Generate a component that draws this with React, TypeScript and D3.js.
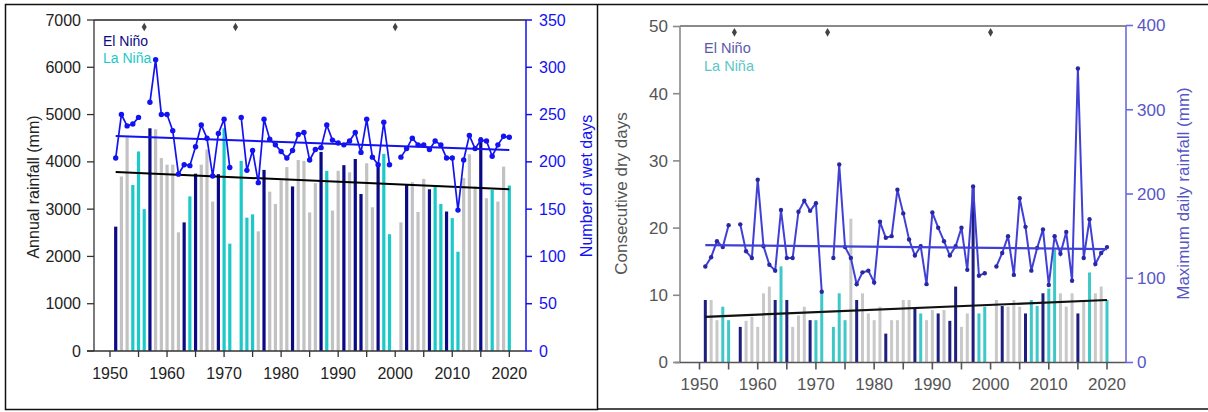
import React from 'react';
import * as d3 from 'd3';

// ---------- DATA ----------
const YEARS: number[] = d3.range(1951, 2021);

// ENSO phase per year: E = El Niño, L = La Niña, N = neutral
const ENSO: string[] = [
  'E','N','N','L','L','L','E','N','N','N', // 1951-1960
  'N','N','E','L','E','N','N','N','E','L', // 1961-1970
  'L','N','L','L','L','N','E','N','N','N', // 1971-1980
  'N','E','N','N','N','N','E','L','N','N', // 1981-1990
  'E','N','E','E','N','N','E','L','L','N', // 1991-2000
  'N','E','N','N','N','E','L','L','E','L', // 2001-2010
  'L','N','N','N','E','N','L','N','N','L', // 2011-2020
];

// Annual rainfall (mm)
const RAINFALL: (number | null)[] = [
  2630, 3690, 4520, 3510, 4220, 3000, 4710, 4690, 4080, 3940,
  3940, 2510, 2720, 3270, 3750, 3940, 4260, 3160, 3740, 4710,
  2270, null, 4020, 2820, 2890, 2530, 3830, 3370, 3110, 3610,
  3890, 3480, 4040, 4020, 2930, 3550, 4210, 3810, 2970, 3810,
  3930, 3780, 4060, 3320, 3970, 3040, 3940, 4170, 2470, null,
  2720, 3530, 3570, 2940, 3640, 3420, 3470, 3110, 2950, 2810,
  2100, 3660, 4160, 3480, 4520, 3230, 3410, 3160, 3900, 3500,
];

// Number of wet days
const WET_DAYS: (number | null)[] = [
  204, 250, 238, 240, 247, null, 263, 308, 250, 250,
  233, 187, 197, 196, 216, 239, 225, 185, 230, 245,
  194, null, 247, 191, 212, 178, 245, 224, 218, 211,
  204, 212, 229, 231, 202, 213, 215, 239, 223, 220,
  218, 222, 231, 210, 245, 205, 197, 242, 197, null,
  205, 214, 225, 218, 218, 213, 222, 218, 204, 204,
  149, 202, 228, 214, 223, 222, 206, 218, 227, 226,
];

// Consecutive dry days
const DRY_DAYS: (number | null)[] = [
  9.3, 9.3, 6.3, 8.3, 6.3, null, 5.3, 6.2, 6.8, 5.3,
  10.3, 11.3, 9.3, 14.3, 9.3, 5.3, 7, 8.3, 6.3, 6.3,
  10.4, null, 5.3, 10.3, 6.3, 21.4, 9.3, 10.3, 7.3, 6.3,
  8.3, 4.3, 6.3, 6.3, 9.3, 9.3, 8.1, 7.3, 6.3, 7.8,
  7.3, 7.8, 6.2, 11.3, 5.3, 7.3, 26, 7.3, 8.3, null,
  9.3, 8.4, 8.3, 9.3, 8.3, 7.3, 9.3, 8.4, 10.3, 11,
  16.8, 10.3, 8.3, 10.3, 7.3, 9.3, 13.4, 10.3, 11.3, 9.3,
];

// Maximum daily rainfall (mm)
const MAX_RAIN: (number | null)[] = [
  114, 125, 144, 137, 163, null, 164, 132, 124, 217,
  138, 116, 109, 181, 124, 124, 179, 192, 180, 189,
  84, null, 124, 235, 137, 124, 93, 107, 109, 95,
  167, 148, 150, 205, 177, 146, 127, 138, 93, 178,
  160, 144, 127, 138, 160, 110, 209, 103, 106, null,
  114, 130, 150, 104, 195, 161, 109, 136, 158, 92,
  150, 129, 155, 97, 349, 124, 170, 117, 130, 137,
];

// Years flagged with a diamond (missing records)
const FLAG_YEARS: number[] = [1956, 1972, 2000];

// Trend lines: [start year, end year] and values at each end
const TREND_YEARS: number[] = [1951, 2020];
const RAIN_TREND: number[] = [3783, 3423];
const WET_TREND: number[] = [227.3, 212.5];
const DRY_TREND: number[] = [6.8, 9.3];
const MAX_TREND: number[] = [139.4, 134.6];

const X_TICKS: number[] = d3.range(1950, 2021, 5);
const X_LABELS: number[] = [1950, 1960, 1970, 1980, 1990, 2000, 2010, 2020];
const RAIN_TICKS: number[] = [0, 1000, 2000, 3000, 4000, 5000, 6000, 7000];
const WET_TICKS: number[] = [0, 50, 100, 150, 200, 250, 300, 350];
const DRY_TICKS: number[] = [0, 10, 20, 30, 40, 50];
const MAX_TICKS: number[] = [0, 100, 200, 300, 400];

// ---------- STYLE ----------
const FONT = '"Liberation Sans", Arial, Helvetica, sans-serif';
const L = { navy: '#0a0a86', cyan: '#1cc9c9', gray: '#c2c2c2', blue: '#1212f2', axis: '#333333' };
const R = {
  navy: '#1e1e7e', cyan: '#3ec8c8', gray: '#c9c9c9', line: '#4040d6', dot: '#2828a6',
  axis: '#8a8a8a', raxis: '#6a6ae0', text: '#555555', rtext: '#5656c6',
};

function barColor(phase: string, pal: { navy: string; cyan: string; gray: string }) {
  return phase === 'E' ? pal.navy : phase === 'L' ? pal.cyan : pal.gray;
}

export default function App() {
  // Left panel scales
  const xL = d3.scaleLinear().domain([1950, 2020]).range([110, 509.3]);
  const yRain = d3.scaleLinear().domain([0, 7000]).range([351, 20]);
  const yWet = d3.scaleLinear().domain([0, 350]).range([351, 20]);
  // Right panel scales
  const xR = d3.scaleLinear().domain([1950, 2020]).range([699.5, 1107]);
  const yDry = d3.scaleLinear().domain([0, 50]).range([362.5, 26.5]);
  const yMax = d3.scaleLinear().domain([0, 400]).range([362.5, 25.5]);

  const wetLine = d3
    .line<number | null>()
    .defined((v) => v != null)
    .x((_, i) => xL(YEARS[i]))
    .y((v) => yWet(v as number));
  const maxLine = d3
    .line<number | null>()
    .defined((v) => v != null)
    .x((_, i) => xR(YEARS[i]))
    .y((v) => yMax(v as number));

  const diamond = d3.symbol().type(d3.symbolDiamond).size(22)();

  const lL = 94, lR = 526, lT = 20, lB = 351;
  const rL = 680, rR = 1126, rT = 26, rB = 362.5;

  return (
    <svg
      width={1208}
      height={412}
      style={{ position: 'absolute', left: 0, top: 0, background: '#fff' }}
      fontFamily={FONT}
    >
      <rect x={0} y={0} width={1208} height={412} fill="#fff" />
      {/* Outer frames */}
      <rect x={5.5} y={4.5} width={592} height={405} fill="none" stroke="#111" strokeWidth={1.5} />
      <line x1={598} x2={1208} y1={4.5} y2={4.5} stroke="#111" strokeWidth={1.5} />
      <line x1={598} x2={1208} y1={409} y2={409} stroke="#111" strokeWidth={1.5} />

      {/* ================= LEFT PANEL ================= */}
      {/* bars */}
      {YEARS.map((yr, i) =>
        RAINFALL[i] == null ? null : (
          <rect
            key={'lb' + yr}
            x={xL(yr) - 1.6}
            width={3.2}
            y={yRain(RAINFALL[i] as number)}
            height={yRain(0) - yRain(RAINFALL[i] as number)}
            fill={barColor(ENSO[i], L)}
          />
        )
      )}
      {/* rainfall trend */}
      <line
        x1={xL(TREND_YEARS[0])}
        x2={xL(TREND_YEARS[1])}
        y1={yRain(RAIN_TREND[0])}
        y2={yRain(RAIN_TREND[1])}
        stroke="#000"
        strokeWidth={2}
      />
      {/* wet days line */}
      <path d={wetLine(WET_DAYS) || ''} fill="none" stroke={L.blue} strokeWidth={1.7} />
      {YEARS.map((yr, i) =>
        WET_DAYS[i] == null ? null : (
          <circle key={'ld' + yr} cx={xL(yr)} cy={yWet(WET_DAYS[i] as number)} r={2.7} fill={L.blue} />
        )
      )}
      <line
        x1={xL(TREND_YEARS[0])}
        x2={xL(TREND_YEARS[1])}
        y1={yWet(WET_TREND[0])}
        y2={yWet(WET_TREND[1])}
        stroke={L.blue}
        strokeWidth={2}
      />
      {/* flags */}
      {FLAG_YEARS.map((yr) => (
        <path key={'lf' + yr} d={diamond || ''} transform={`translate(${xL(yr)},27)`} fill="#444" />
      ))}
      {/* axes */}
      <line x1={lL} x2={lR} y1={lT} y2={lT} stroke="#222" strokeWidth={1.3} />
      <line x1={lL} x2={lL} y1={lT} y2={lB} stroke={L.axis} strokeWidth={1.3} />
      <line x1={87} x2={lR} y1={lB} y2={lB} stroke={L.axis} strokeWidth={1.3} />
      <line x1={lR} x2={lR} y1={lT} y2={lB} stroke={L.blue} strokeWidth={1.5} />
      {RAIN_TICKS.map((t) => (
        <g key={'lyt' + t}>
          <line x1={87} x2={lL} y1={yRain(t)} y2={yRain(t)} stroke={L.axis} strokeWidth={1.3} />
          <text x={81} y={yRain(t)} dy="0.35em" textAnchor="end" fontSize={16} fill="#222">
            {t}
          </text>
        </g>
      ))}
      {WET_TICKS.map((t) => (
        <g key={'lrt' + t}>
          <line x1={lR} x2={lR + 6} y1={yWet(t)} y2={yWet(t)} stroke={L.blue} strokeWidth={1.5} />
          <text x={539} y={yWet(t)} dy="0.35em" textAnchor="start" fontSize={16} fill={L.blue}>
            {t}
          </text>
        </g>
      ))}
      {X_TICKS.map((t) => (
        <line key={'lxt' + t} x1={xL(t)} x2={xL(t)} y1={lB} y2={lB + 6} stroke={L.axis} strokeWidth={1.3} />
      ))}
      {X_LABELS.map((t) => (
        <text key={'lxl' + t} x={xL(t)} y={378.5} textAnchor="middle" fontSize={16} fill="#222">
          {t}
        </text>
      ))}
      <text transform="translate(38.5,187) rotate(-90)" textAnchor="middle" fontSize={16} fill="#222">
        Annual rainfall (mm)
      </text>
      <text transform="translate(591.5,186) rotate(-90)" textAnchor="middle" fontSize={16} fill={L.blue}>
        Number of wet days
      </text>
      <text x={103} y={46} fontSize={14} fill={L.navy}>El Niño</text>
      <text x={103} y={63.3} fontSize={14} fill={L.cyan}>La Niña</text>

      {/* ================= RIGHT PANEL ================= */}
      {YEARS.map((yr, i) =>
        DRY_DAYS[i] == null ? null : (
          <rect
            key={'rb' + yr}
            x={xR(yr) - 1.5}
            width={3}
            y={yDry(DRY_DAYS[i] as number)}
            height={yDry(0) - yDry(DRY_DAYS[i] as number)}
            fill={barColor(ENSO[i], R)}
          />
        )
      )}
      <line
        x1={xR(TREND_YEARS[0])}
        x2={xR(TREND_YEARS[1])}
        y1={yDry(DRY_TREND[0])}
        y2={yDry(DRY_TREND[1])}
        stroke="#111"
        strokeWidth={2.2}
      />
      <path d={maxLine(MAX_RAIN) || ''} fill="none" stroke={R.line} strokeWidth={2} />
      {YEARS.map((yr, i) =>
        MAX_RAIN[i] == null ? null : (
          <circle key={'rd' + yr} cx={xR(yr)} cy={yMax(MAX_RAIN[i] as number)} r={2.2} fill={R.dot} />
        )
      )}
      <line
        x1={xR(TREND_YEARS[0])}
        x2={xR(TREND_YEARS[1])}
        y1={yMax(MAX_TREND[0])}
        y2={yMax(MAX_TREND[1])}
        stroke={R.line}
        strokeWidth={2.2}
      />
      {FLAG_YEARS.map((yr) => (
        <path key={'rf' + yr} d={diamond || ''} transform={`translate(${xR(yr)},32.3)`} fill="#444" />
      ))}
      <line x1={rL} x2={rR} y1={rT} y2={rT} stroke={R.axis} strokeWidth={2} />
      <line x1={rL} x2={rL} y1={rT} y2={rB} stroke={R.axis} strokeWidth={1.6} />
      <line x1={675} x2={rR} y1={rB} y2={rB} stroke="#555" strokeWidth={1.6} />
      <line x1={rR} x2={rR} y1={rT} y2={rB} stroke={R.raxis} strokeWidth={1.6} />
      {DRY_TICKS.map((t) => (
        <g key={'ryt' + t}>
          <line x1={673} x2={rL} y1={yDry(t)} y2={yDry(t)} stroke={R.axis} strokeWidth={1.6} />
          <text x={668} y={yDry(t)} dy="0.35em" textAnchor="end" fontSize={17} fill={R.text}>
            {t}
          </text>
        </g>
      ))}
      {MAX_TICKS.map((t) => (
        <g key={'rrt' + t}>
          <line x1={rR} x2={rR + 7} y1={yMax(t)} y2={yMax(t)} stroke={R.raxis} strokeWidth={1.6} />
          <text x={1137} y={yMax(t)} dy="0.35em" textAnchor="start" fontSize={17} fill={R.rtext}>
            {t}
          </text>
        </g>
      ))}
      {X_TICKS.map((t) => (
        <line key={'rxt' + t} x1={xR(t)} x2={xR(t)} y1={rB} y2={rB + 7} stroke="#555" strokeWidth={1.6} />
      ))}
      {X_LABELS.map((t) => (
        <text key={'rxl' + t} x={xR(t)} y={390} textAnchor="middle" fontSize={17} fill={R.text}>
          {t}
        </text>
      ))}
      <text transform="translate(626.5,193.5) rotate(-90)" textAnchor="middle" fontSize={17} fill={R.text}>
        Consecutive dry days
      </text>
      <text transform="translate(1189,193.5) rotate(-90)" textAnchor="middle" fontSize={17} fill={R.rtext}>
        Maximum daily rainfall (mm)
      </text>
      <text x={704} y={52.5} fontSize={14.5} fill="#5a5aa8">El Niño</text>
      <text x={704} y={70.7} fontSize={14.5} fill="#5cc6c6">La Niña</text>
    </svg>
  );
}
